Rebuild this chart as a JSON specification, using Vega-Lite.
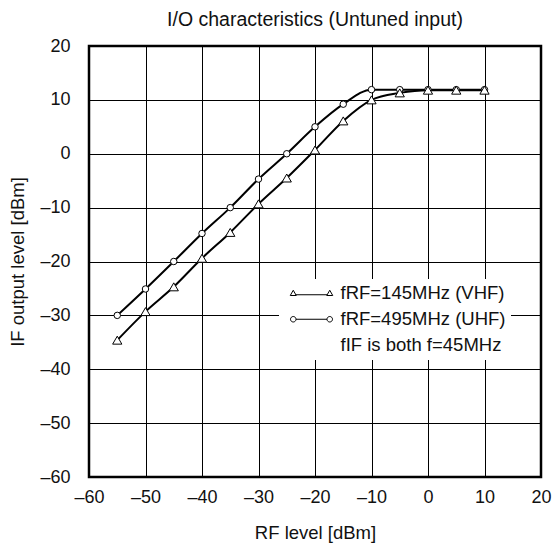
{
  "$schema": "https://vega.github.io/schema/vega-lite/v6.json",
  "width": 452,
  "height": 431,
  "autosize": {"type": "none"},
  "padding": {"left": 89, "top": 46, "right": 14, "bottom": 69},
  "background": "white",
  "title": {
    "text": "I/O characteristics (Untuned input)",
    "font": "Liberation Sans",
    "fontSize": 19.5,
    "fontWeight": "normal",
    "color": "#111",
    "offset": 7
  },
  "config": {
    "view": {"stroke": "black", "strokeWidth": 2.5},
    "font": "Liberation Sans",
    "axis": {
      "domain": false,
      "ticks": false,
      "tickSize": 0,
      "grid": true,
      "gridColor": "black",
      "gridWidth": 1,
      "gridOpacity": 1,
      "labelFlush": false,
      "labelOverlap": false,
      "labelFont": "Liberation Sans",
      "labelFontSize": 18,
      "labelColor": "#111",
      "titleFont": "Liberation Sans",
      "titleFontSize": 18.5,
      "titleFontWeight": "normal",
      "titleColor": "#111"
    }
  },
  "data": {
    "values": [
      {"series": "UHF", "rf": -55, "ifl": -30},
      {"series": "UHF", "rf": -50, "ifl": -25.1},
      {"series": "UHF", "rf": -45, "ifl": -20},
      {"series": "UHF", "rf": -40, "ifl": -14.8},
      {"series": "UHF", "rf": -35, "ifl": -10},
      {"series": "UHF", "rf": -30, "ifl": -4.7},
      {"series": "UHF", "rf": -25, "ifl": 0},
      {"series": "UHF", "rf": -20, "ifl": 5},
      {"series": "UHF", "rf": -15, "ifl": 9.2},
      {"series": "UHF", "rf": -10, "ifl": 11.9},
      {"series": "UHF", "rf": -5, "ifl": 11.9},
      {"series": "UHF", "rf": 0, "ifl": 11.9},
      {"series": "UHF", "rf": 5, "ifl": 11.9},
      {"series": "UHF", "rf": 10, "ifl": 11.9},
      {"series": "VHF", "rf": -55, "ifl": -34.6},
      {"series": "VHF", "rf": -50, "ifl": -29.3},
      {"series": "VHF", "rf": -45, "ifl": -24.7},
      {"series": "VHF", "rf": -40, "ifl": -19.4},
      {"series": "VHF", "rf": -35, "ifl": -14.6},
      {"series": "VHF", "rf": -30, "ifl": -9.3},
      {"series": "VHF", "rf": -25, "ifl": -4.5},
      {"series": "VHF", "rf": -20, "ifl": 0.7},
      {"series": "VHF", "rf": -15, "ifl": 6.1},
      {"series": "VHF", "rf": -10, "ifl": 10},
      {"series": "VHF", "rf": -5, "ifl": 11.3},
      {"series": "VHF", "rf": 0, "ifl": 11.8},
      {"series": "VHF", "rf": 5, "ifl": 11.8},
      {"series": "VHF", "rf": 10, "ifl": 11.8}
    ]
  },
  "encoding": {
    "x": {
      "field": "rf",
      "type": "quantitative",
      "scale": {"domain": [-60, 20], "nice": false, "zero": false},
      "axis": {
        "values": [-60, -50, -40, -30, -20, -10, 0, 10, 20],
        "labelExpr": "datum.value < 0 ? '–' + abs(datum.value) : '' + datum.value",
        "labelPadding": 11,
        "title": "RF level [dBm]",
        "titlePadding": 17
      }
    },
    "y": {
      "field": "ifl",
      "type": "quantitative",
      "scale": {"domain": [-60, 20], "nice": false, "zero": false},
      "axis": {
        "values": [-60, -50, -40, -30, -20, -10, 0, 10, 20],
        "labelExpr": "datum.value < 0 ? '–' + abs(datum.value) : '' + datum.value",
        "labelPadding": 19,
        "title": "IF output level [dBm]",
        "titlePadding": 12
      }
    }
  },
  "layer": [
    {
      "mark": {"type": "line", "interpolate": "monotone", "color": "black", "strokeWidth": 2},
      "encoding": {"detail": {"field": "series"}}
    },
    {
      "mark": {"type": "point", "filled": true, "fill": "white", "stroke": "black", "strokeWidth": 1, "opacity": 1},
      "encoding": {
        "shape": {
          "field": "series",
          "type": "nominal",
          "scale": {"domain": ["VHF", "UHF"], "range": ["triangle-up", "circle"]},
          "legend": null
        },
        "size": {"condition": {"test": "datum.series === 'VHF'", "value": 85}, "value": 42}
      }
    },
    {
      "transform": [{"filter": "datum.series === 'note'"}],
      "mark": {"type": "point", "filled": false, "color": "black", "strokeWidth": 1, "opacity": 1, "size": 100},
      "encoding": {
        "shape": {
          "field": "series",
          "type": "nominal",
          "scale": {
            "domain": ["VHF", "UHF", "note"],
            "range": [
              "M-0.6,0.45L0.6,0.45L0,-0.6Z M0.52,0.3L6.78,0.3 M6.7,0.45L7.9,0.45L7.3,-0.6Z",
              "M-0.55,0A0.55,0.55 0 1,0 0.55,0A0.55,0.55 0 1,0 -0.55,0Z M0.55,0L6.75,0 M6.75,0A0.55,0.55 0 1,0 7.85,0A0.55,0.55 0 1,0 6.75,0Z",
              "M0,0"
            ]
          },
          "legend": {
            "title": null,
            "orient": "none",
            "legendX": 190,
            "legendY": 233,
            "padding": 5,
            "fillColor": "white",
            "symbolSize": 100,
            "symbolStrokeColor": "black",
            "symbolStrokeWidth": 1,
            "symbolOpacity": 1,
            "labelOffset": 38,
            "labelLimit": 400,
            "labelFont": "Liberation Sans",
            "labelFontSize": 18.5,
            "labelColor": "#111",
            "rowPadding": 7,
            "labelExpr": "datum.value === 'VHF' ? 'fRF=145MHz (VHF)' : datum.value === 'UHF' ? 'fRF=495MHz (UHF)' : 'fIF is both f=45MHz'"
          }
        }
      }
    }
  ],
  "resolve": {"scale": {"shape": "independent"}, "legend": {"shape": "independent"}}
}
